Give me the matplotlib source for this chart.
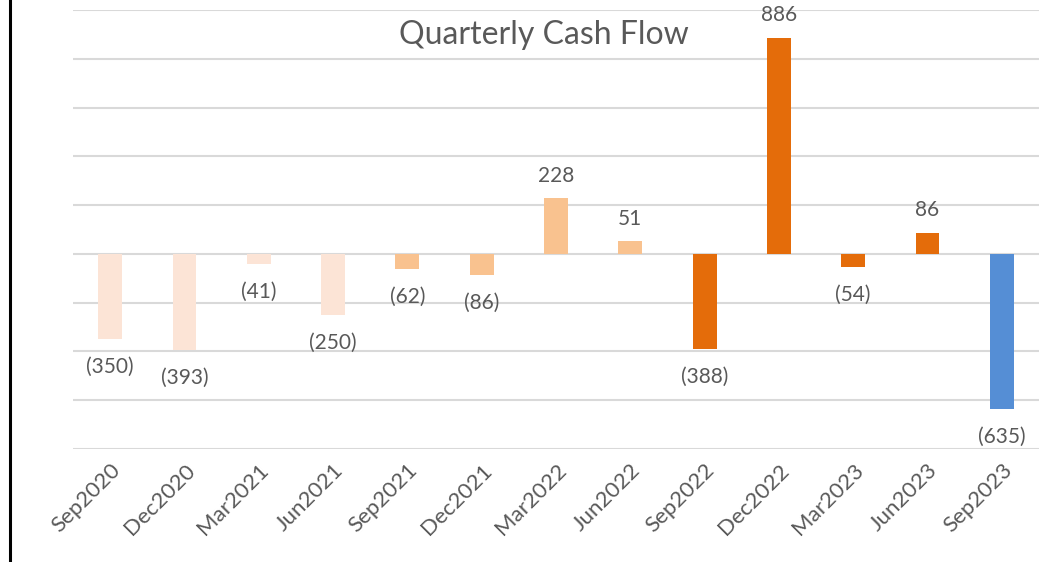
import matplotlib.pyplot as plt
from matplotlib.lines import Line2D
import numpy as np

plt.rcParams['font.family'] = ['Lato', 'DejaVu Sans']

quarters = ['Sep2020', 'Dec2020', 'Mar2021', 'Jun2021', 'Sep2021', 'Dec2021',
            'Mar2022', 'Jun2022', 'Sep2022', 'Dec2022', 'Mar2023', 'Jun2023', 'Sep2023']
cash_flow = [-350, -393, -41, -250, -62, -86, 228, 51, -388, 886, -54, 86, -635]
bar_colors = ['#FCE4D6'] * 4 + ['#F9C28F'] * 4 + ['#E46C0A'] * 4 + ['#558ED5']

def fmt(v):
    return '({})'.format(abs(v)) if v < 0 else str(v)

fig = plt.figure(figsize=(10.58, 5.62), dpi=100)
ax = fig.add_axes([73 / 1058, 1 - 449 / 562, (1039 - 73) / 1058, (449 - 10) / 562])

x = np.arange(len(quarters))
ax.bar(x, cash_flow, width=0.32, color=bar_colors, zorder=3)

for xi, v in zip(x, cash_flow):
    if v < 0:
        ax.annotate(fmt(v), (xi, v), xytext=(0, -13), textcoords='offset points',
                    ha='center', va='top', fontsize=15, color='#595959')
    else:
        ax.annotate(fmt(v), (xi, v), xytext=(0, 9), textcoords='offset points',
                    ha='center', va='bottom', fontsize=15, color='#595959')

ax.set_ylim(-800, 1000)
ax.set_xlim(-0.5, len(quarters) - 0.5)
ax.set_yticks(np.arange(-800, 1001, 200))
ax.yaxis.grid(True, color='#D9D9D9', linewidth=1.5, zorder=0)
ax.tick_params(axis='y', left=False, labelleft=False)
ax.tick_params(axis='x', length=0, pad=8)
ax.set_xticks(x)
ax.set_xticklabels(quarters, rotation=45, ha='right', rotation_mode='anchor',
                   fontsize=16, color='#595959')
for s in ax.spines.values():
    s.set_visible(False)

ax.text(0.487, 0.943, 'Quarterly Cash Flow', transform=ax.transAxes,
        ha='center', va='center', fontsize=23, color='#595959')

fig.add_artist(Line2D([10 / 1058, 10 / 1058], [0, 1], transform=fig.transFigure,
                      color='black', linewidth=2.2))

fig.savefig('out.png', dpi=100)
